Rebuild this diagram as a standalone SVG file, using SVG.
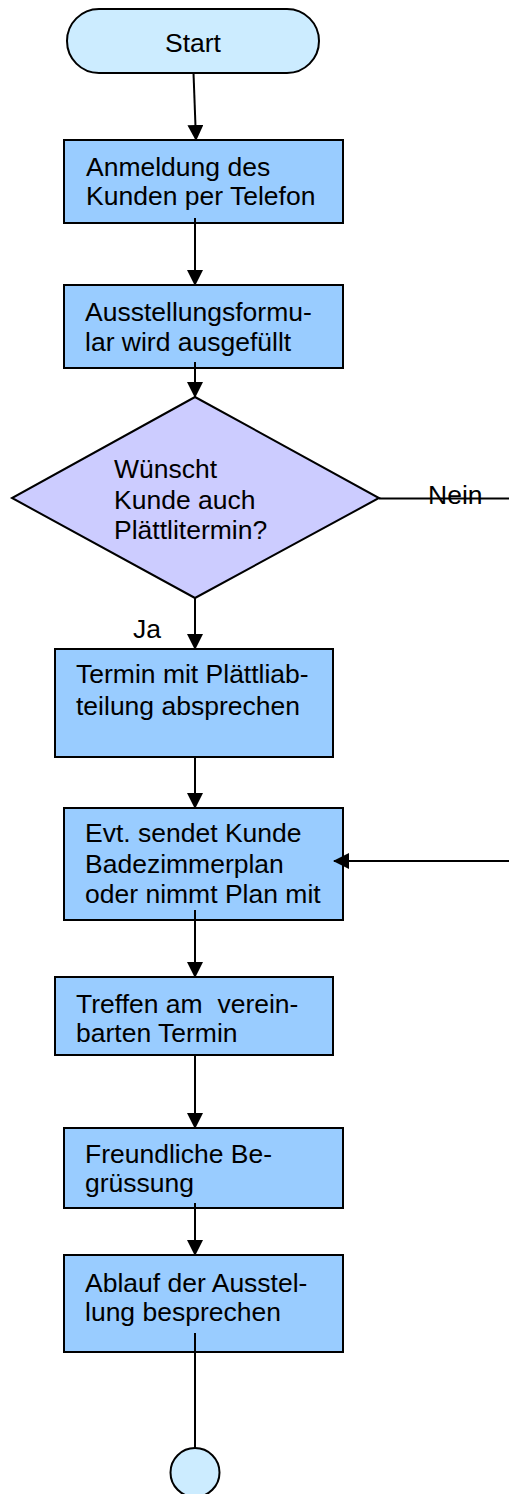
<svg xmlns="http://www.w3.org/2000/svg" width="509" height="1494" viewBox="0 0 509 1494">
<style>
  .box { fill: #99CCFF; stroke: #000; stroke-width: 2; }
  .term { fill: #CCECFF; stroke: #000; stroke-width: 2; }
  .dec { fill: #CCCCFF; stroke: #000; stroke-width: 2; }
  .t { font-family: "Liberation Sans", Arial, sans-serif; font-size: 26.5px; fill: #000; }
  .c { fill: none; stroke: #000; stroke-width: 2; }
</style>
<defs>
  <marker id="arr" markerUnits="userSpaceOnUse" markerWidth="16" markerHeight="16" viewBox="0 0 16 16" refX="15" refY="8" orient="auto">
    <polygon points="0,0 16,8 0,16" fill="#000"/>
  </marker>
  <clipPath id="clip6"><rect x="60" y="1120" width="290" height="77"/></clipPath>
</defs>

<g id="start">
  <rect class="term" x="67" y="9" width="252" height="64" rx="32" ry="32"/>
  <text class="t" x="193" y="52" text-anchor="middle">Start</text>
</g>

<g id="n1">
  <rect class="box" x="64" y="140" width="279" height="83"/>
  <text class="t" x="86" y="176">Anmeldung des</text>
  <text class="t" x="86" y="205">Kunden per Telefon</text>
</g>

<g id="n2">
  <rect class="box" x="64" y="285" width="279" height="83"/>
  <text class="t" x="85" y="321">Ausstellungsformu-</text>
  <text class="t" x="85" y="351">lar wird ausgefüllt</text>
</g>

<g id="d1">
  <polygon class="dec" points="195,397 379,498 195,598 12,498"/>
  <text class="t" x="114" y="478">Wünscht</text>
  <text class="t" x="114" y="509">Kunde auch</text>
  <text class="t" x="114" y="539">Plättlitermin?</text>
</g>

<g id="n3">
  <rect class="box" x="55" y="649" width="278" height="108"/>
  <text class="t" x="76" y="683">Termin mit Plättliab-</text>
  <text class="t" x="76" y="715">teilung absprechen</text>
</g>

<g id="n4">
  <rect class="box" x="64" y="808" width="279" height="112"/>
  <text class="t" x="85" y="842">Evt. sendet Kunde</text>
  <text class="t" x="85" y="873">Badezimmerplan</text>
  <text class="t" x="85" y="903">oder nimmt Plan mit</text>
</g>

<g id="n5">
  <rect class="box" x="55" y="977" width="278" height="78"/>
  <text class="t" x="76" y="1013" xml:space="preserve">Treffen am  verein-</text>
  <text class="t" x="76" y="1042">barten Termin</text>
</g>

<g id="n6">
  <rect class="box" x="64" y="1128" width="279" height="80"/>
  <g clip-path="url(#clip6)">
    <text class="t" x="85" y="1163">Freundliche Be-</text>
    <text class="t" x="85" y="1192">grüssung</text>
  </g>
</g>

<g id="n7">
  <rect class="box" x="64" y="1255" width="279" height="97"/>
  <text class="t" x="85" y="1292">Ablauf der Ausstel-</text>
  <text class="t" x="85" y="1321">lung besprechen</text>
</g>

<g id="end">
  <circle class="term" cx="195" cy="1472.5" r="24.5"/>
</g>

<g id="connectors">
  <line class="c" x1="193.5" y1="73" x2="196" y2="140" marker-end="url(#arr)"/>
  <line class="c" x1="195" y1="218" x2="195" y2="285" marker-end="url(#arr)"/>
  <line class="c" x1="195" y1="362" x2="195" y2="397" marker-end="url(#arr)"/>
  <line class="c" x1="379" y1="498.5" x2="509" y2="498.5"/>
  <text class="t" x="428" y="503.5">Nein</text>
  <line class="c" x1="195" y1="598" x2="195" y2="649" marker-end="url(#arr)"/>
  <text class="t" x="133" y="638">Ja</text>
  <line class="c" x1="195" y1="757" x2="195" y2="808" marker-end="url(#arr)"/>
  <line class="c" x1="509" y1="861" x2="334" y2="861" marker-end="url(#arr)"/>
  <line class="c" x1="195" y1="910" x2="195" y2="977" marker-end="url(#arr)"/>
  <line class="c" x1="195" y1="1055" x2="195" y2="1128" marker-end="url(#arr)"/>
  <line class="c" x1="195" y1="1203" x2="195" y2="1255" marker-end="url(#arr)"/>
  <line class="c" x1="195" y1="1333" x2="195" y2="1448"/>
</g>
</svg>
